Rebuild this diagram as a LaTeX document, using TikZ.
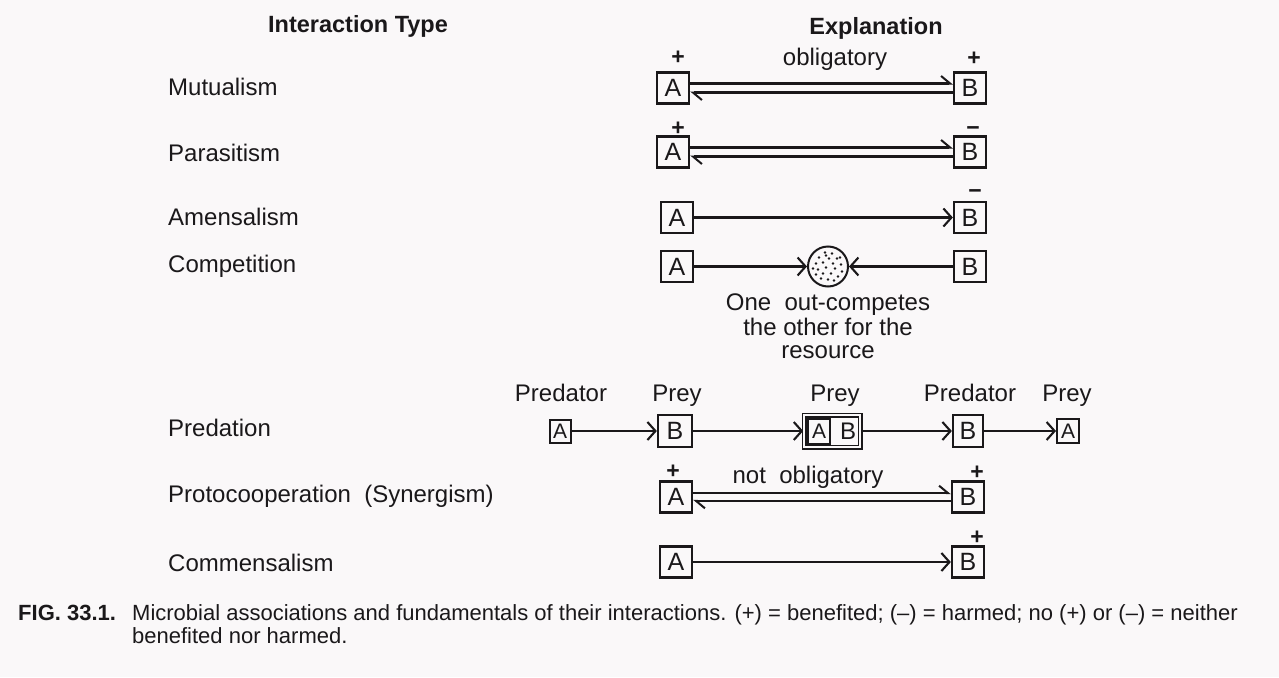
\documentclass[tikz,border=0pt]{standalone}
\usepackage{fontspec}
\setmainfont{Liberation Sans}
\usetikzlibrary{arrows.meta}
\definecolor{ink}{RGB}{26,24,26}
\definecolor{paper}{RGB}{250,248,249}
\begin{document}
\begin{tikzpicture}[x=1pt,y=-1pt,
  lbl/.style={font=\fontsize{24}{26}\selectfont, text=ink, inner sep=0pt, anchor=base west},
  txt/.style={font=\fontsize{24}{26}\selectfont, text=ink, inner sep=0pt, anchor=base},
  hdr/.style={font=\fontsize{23.5}{26}\bfseries\selectfont, text=ink, inner sep=0pt, anchor=base},
  org/.style={draw=ink, line width=2.3pt, minimum width=32pt, minimum height=31pt, inner sep=0pt, font=\fontsize{25}{26}\selectfont, text=ink},
  orgs/.style={draw=ink, line width=2pt, minimum width=21pt, minimum height=23pt, inner sep=0pt, font=\fontsize{21}{22}\selectfont, text=ink},
  sgn/.style={font=\fontsize{23}{24}\bfseries\selectfont, text=ink, inner sep=0pt},
  link/.style={draw=ink, line width=2.1pt},
  harp/.style={link, -{Straight Barb[left, length=9pt, width=15pt, line width=2pt]}},
  arr/.style={link, -{Straight Barb[length=8pt, width=18pt, line width=2.1pt]}},
  captxt/.style={font=\fontsize{22}{24}\selectfont, text=ink, inner sep=0pt, anchor=base west},
]
\path[fill=paper, use as bounding box] (0,0) rectangle (1279,677);

% headers
\node[hdr] (h1) at (358,33) {Interaction Type};
\node[hdr] (h2) at (876,35) {Explanation};

% interaction labels
\node[lbl] (l1) at (168,95) {Mutualism};
\node[lbl] (l2) at (168,161) {Parasitism};
\node[lbl] (l3) at (168,225) {Amensalism};
\node[lbl] (l4) at (168,272) {Competition};
\node[lbl] (l5) at (168,436) {Predation};
\node[lbl] (l6) at (168,502) {Protocooperation\ \ (Synergism)};
\node[lbl] (l7) at (168,571) {Commensalism};

% Mutualism
\node[org] (mA) at (673,88) {A};
\node[org] (mB) at (970,88) {B};
\node[sgn] (mAs) at (678,58) {+};
\node[sgn] (mBs) at (974,59) {+};
\node[txt] (mT) at (835,66) {obligatory};
\draw[harp] ([yshift=4.5pt]mA.east) -- ([yshift=4.5pt]mB.west);
\draw[harp] ([yshift=-4.5pt]mB.west) -- ([yshift=-4.5pt]mA.east);

% Parasitism
\node[org] (pA) at (673,152) {A};
\node[org] (pB) at (970,152) {B};
\node[sgn] (pAs) at (678,129) {+};
\node[sgn] (pBs) at (973,131) {\textminus};
\draw[harp] ([yshift=4.5pt]pA.east) -- ([yshift=4.5pt]pB.west);
\draw[harp] ([yshift=-4.5pt]pB.west) -- ([yshift=-4.5pt]pA.east);

% Amensalism
\node[org] (aA) at (677,217.5) {A};
\node[org] (aB) at (970,217.5) {B};
\node[sgn] (aBs) at (975,194) {\textminus};
\draw[arr] (aA) -- (aB);

% Competition
\node[org] (cA) at (677,266.5) {A};
\node[org] (cB) at (970,266.5) {B};
\node[draw=ink, circle, line width=2pt, minimum size=40pt, inner sep=0pt] (res) at (828,266.5) {};
\foreach \dx/\dy in {-3/-14,4/-13,-9/-9,1/-8,9/-8,-12/-3,-5/-4,5/-3,13/-2,-10/3,-2/1,7/2,14/5,-12/8,-5/7,3/7,10/10,-7/12,0/13,6/14,-2/-11,12/-9,-15/2}
  \fill[ink] (828+\dx,266.5+\dy) circle (1.3pt);
\draw[arr] (cA) -- (res);
\draw[arr] (cB) -- (res);
\node[txt] (cT1) at (828,310) {One\ \ out-competes};
\node[txt] (cT2) at (828,335) {the other for the};
\node[txt] (cT3) at (828,358) {resource};

% Predation
\node[txt] (t1) at (561,401) {Predator};
\node[txt] (t2) at (677,401) {Prey};
\node[txt] (t3) at (835,401) {Prey};
\node[txt] (t4) at (970,401) {Predator};
\node[txt] (t5) at (1067,401) {Prey};
\node[orgs] (d1) at (560,431) {A};
\node[org, minimum width=34pt, minimum height=32pt] (d2) at (675,431) {B};
\node[draw=ink, double=paper, line width=1.6pt, double distance=1.8pt, minimum width=56pt, minimum height=32pt, inner sep=0pt] (d3) at (832,431) {};
\node[orgs, minimum width=22pt, minimum height=25pt] (d3a) at (819,431) {A};
\node[txt, anchor=center] (d3b) at (848,431) {B};
\node[org, minimum width=30pt, minimum height=32pt] (d4) at (968,431) {B};
\node[orgs, minimum width=22pt, minimum height=24pt] (d5) at (1068,431) {A};
\draw[arr] (d1) -- (d2);
\draw[arr] (d2) -- (d3);
\draw[arr] (d3) -- (d4);
\draw[arr] (d4) -- (d5);

% Protocooperation
\node[org] (sA) at (676,497) {A};
\node[org] (sB) at (968,497) {B};
\node[sgn] (sAs) at (673,472) {+};
\node[sgn] (sBs) at (977,473) {+};
\node[txt] (sT) at (808,483) {not\ \ obligatory};
\draw[harp] ([yshift=3.8pt]sA.east) -- ([yshift=3.8pt]sB.west);
\draw[harp] ([yshift=-3.8pt]sB.west) -- ([yshift=-3.8pt]sA.east);

% Commensalism
\node[org] (kA) at (676,562) {A};
\node[org] (kB) at (968,562) {B};
\node[sgn] (kBs) at (977,538) {+};
\draw[arr] (kA) -- (kB);

% caption
\node[captxt, font=\fontsize{22}{24}\bfseries\selectfont] (f1) at (18,620) {FIG. 33.1.};
\node[captxt] (f2) at (132,620) {Microbial associations and fundamentals of their interactions. (+) = benefited; (–) = harmed; no (+) or (–) = neither};
\node[captxt] (f3) at (132,643) {benefited nor harmed.};
\end{tikzpicture}
\end{document}
